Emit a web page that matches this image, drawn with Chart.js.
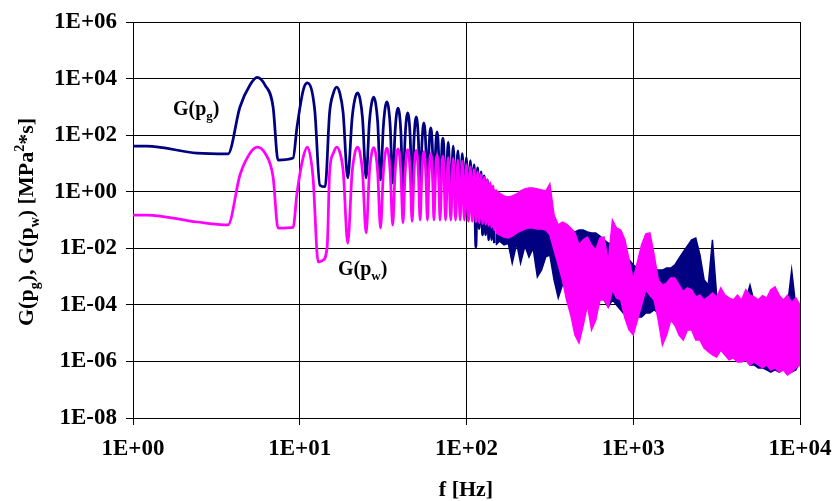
<!DOCTYPE html>
<html>
<head>
<meta charset="utf-8">
<script src="https://cdn.jsdelivr.net/npm/chart.js@4/dist/chart.umd.min.js"></script>
<style>
  body { margin: 0; background: #fff; }
  canvas { display: block; }
</style>
</head>
<body>
<canvas id="spectrum" width="835" height="501"></canvas>
<script>
// tick values and labels
const xTickValues = [1, 10, 100, 1000, 10000];
const xTickLabels = ['1E+00', '1E+01', '1E+02', '1E+03', '1E+04'];
const yTickValues = [1e-8, 1e-6, 1e-4, 1e-2, 1, 1e2, 1e4, 1e6];
const yTickLabels = ['1E-08', '1E-06', '1E-04', '1E-02', '1E+00', '1E+02', '1E+04', '1E+06'];

// G(pg) - low frequency part, peaks, shoulders and troughs
const pgFreq = [1, 1.21, 2.42, 3.71, 4.38, 5.03, 5.55, 6.19, 6.92, 7.41, 9.12, 9.63, 10.5, 11.1, 12.3, 13.2, 14.2,
  15.1, 15.9, 16.65, 17.4, 18.2, 19.4,
  20.6, 21.4, 22.2, 23.0, 23.8, 25.0,
  26.15, 26.95, 27.75, 28.55, 29.35, 30.5,
  31.7, 32.5, 33.3, 34.1, 34.9, 36.1,
  37.25, 38.05, 38.85, 39.65, 40.45, 41.6,
  42.8, 43.6, 44.4, 45.2, 46.0, 47.2,
  48.35, 49.15, 49.95, 50.75, 51.55, 52.7,
  53.9, 54.7, 55.5, 56.3, 57.1, 58.3,
  59.45, 60.25, 61.05, 61.85, 62.65, 63.8,
  65.0, 65.8, 66.6, 67.4, 68.2, 69.4,
  71.35, 72.15, 72.95, 74.9,
  77.7, 80.5, 83.25, 86.0, 88.8, 91.6, 94.35, 97.1, 99.9,
  102.7, 105.45, 108.2, 111.0, 113.8, 116.55, 119.3, 122.1, 124.9, 127.65, 130.4, 133.2, 136.0, 138.75, 141.5, 144.3, 147.0];
const pgVal = [41, 41, 23, 21.6, 990, 5900, 11000, 5900, 990, 13.2, 15.6, 194, 3950, 7000, 770, 1.7, 1.5,
  625, 3000, 5000, 3000, 625, 3.1,
  390, 1850, 3100, 1850, 390, 3.1,
  275, 1300, 2200, 1300, 275, 2.6,
  190, 900, 1500, 900, 190, 2.0,
  115, 550, 910, 550, 115, 0.8,
  76, 370, 610, 370, 76, 0.7,
  55, 265, 440, 265, 55, 0.65,
  34, 160, 270, 160, 34, 0.65,
  22, 110, 180, 110, 22, 0.65,
  16, 78, 130, 78, 16, 0.6,
  48, 79, 48, 0.6,
  57, 0.55, 41, 0.5, 28, 0.45, 22, 0.4, 16,
  0.1, 12.5, 0.3, 8.9, 0.011, 6.9, 0.05, 5.0, 0.03, 3.6, 0.03, 2.6, 0.02, 1.8, 0.02, 1.2, 0.015];

// G(pw) - low frequency part
const pwFreq = [1, 1.21, 2.42, 3.71, 4.38, 5.03, 5.55, 6.19, 6.92, 7.41, 9.12, 9.63, 10.5, 11.1, 12.0, 12.9, 13.7, 14.6,
  15.1, 15.9, 16.65, 17.45, 18.25, 19.4,
  20.6, 21.4, 22.2, 23.0, 23.8, 25.0,
  26.15, 26.95, 27.75, 28.55, 29.35, 30.5,
  31.7, 32.5, 33.3, 34.1, 34.9, 36.1,
  37.25, 38.05, 38.85, 39.65, 40.45, 41.6,
  42.8, 43.6, 44.4, 45.2, 46.0, 47.2,
  48.35, 49.15, 49.95, 50.75, 51.55, 52.7,
  53.9, 54.7, 55.5, 56.3, 57.1, 58.3,
  59.45, 60.25, 61.05, 61.85, 62.65, 63.8,
  65.0, 65.8, 66.6, 67.4, 68.2, 69.4,
  71.35, 72.15, 72.95, 74.9,
  77.7, 80.5, 83.25, 86.0, 88.8, 91.6, 94.35, 97.1, 99.9,
  102.7, 105.45, 108.2, 111.0, 113.8, 116.55, 119.3, 122.1, 124.9, 127.65, 130.4, 133.2, 136.0, 138.75, 141.5, 144.3, 147.0, 149.85];
const pwVal = [0.15, 0.15, 0.085, 0.067, 3.9, 23, 38, 23, 3.3, 0.052, 0.055, 0.9, 17, 38, 3.4, 0.0033, 0.0037, 0.011,
  4.8, 23, 38, 23, 4.8, 0.015,
  4.8, 23, 38, 23, 4.8, 0.035,
  4.5, 22, 36, 22, 4.5, 0.052,
  4.4, 21, 35, 21, 4.4, 0.066,
  4.1, 20, 33, 20, 4.1, 0.08,
  3.9, 19, 31, 19, 3.9, 0.09,
  3.6, 17, 29, 17, 3.6, 0.1,
  3.3, 16, 26, 16, 3.3, 0.1,
  2.8, 13, 22, 13, 2.8, 0.1,
  2.5, 12, 20, 12, 2.5, 0.1,
  11, 18, 11, 0.1,
  16, 0.1, 15, 0.1, 13, 0.1, 12, 0.1, 9,
  0.09, 7.5, 0.09, 6, 0.085, 5, 0.08, 4, 0.075, 3.3, 0.07, 2.6, 0.065, 2.1, 0.055, 1.6, 0.045, 1.2];

// high frequency part: upper / lower edge of the dense band
const bandFreq = [150, 158, 168, 178, 188, 200, 211, 224, 237, 251, 266, 282, 299, 316, 335,
  355, 376, 398, 422, 447, 473, 501, 531, 562, 596, 631, 668, 708, 750, 794,
  841, 891, 944, 1000, 1059, 1122, 1189, 1259, 1334, 1413, 1496, 1585, 1679, 1778, 1884,
  1995, 2113, 2239, 2371, 2512, 2661, 2818, 2985, 3162, 3350, 3548, 3758, 3981, 4217, 4467,
  4732, 5012, 5309, 5623, 5957, 6310, 6683, 7079, 7499, 7943, 8414, 8913, 9441, 10000];

const pwHi = [1.15, 0.90, 0.71, 0.65, 0.71, 0.83, 1.06, 1.25, 1.36, 1.36, 1.25, 1.15, 1.06, 1.9, 0.15,
  0.067, 0.085, 0.072, 0.052, 0.035, 0.013, 0.020, 0.025, 0.013, 0.0087, 0.023, 0.025, 0.0033, 0.10, 0.052,
  0.044, 0.020, 0.0039, 7.6e-4, 0.0033, 0.013, 0.032, 0.035, 0.0058, 7.6e-4, 5.0e-4, 5.9e-4, 8.9e-4, 8.9e-4, 5.0e-4,
  2.9e-4, 4.0e-4, 3.4e-4, 1.9e-4, 2.2e-4, 1.5e-4, 1.9e-4, 2.6e-4, 1.9e-4, 4.0e-4, 2.2e-4, 1.75e-4, 1.5e-4, 2.2e-4, 1.5e-4,
  3.4e-4, 2.2e-4, 1.9e-4, 1.5e-4, 2.1e-4, 1.75e-4, 3.4e-4, 4.3e-4, 2.2e-4, 1.5e-4, 2.2e-4, 1.2e-4, 1.75e-4, 9.9e-5];
const pwLo = [0.035, 0.030, 0.025, 0.023, 0.027, 0.035, 0.041, 0.048, 0.052, 0.052, 0.048, 0.048, 0.044, 0.030, 0.0087,
  0.0026, 7.6e-4, 1.5e-4, 4.4e-5, 8.6e-6, 4.5e-6, 1.9e-5, 9.9e-5, 1.3e-5, 2.9e-5, 1.5e-4, 1.5e-4, 8.4e-5, 3.4e-4, 1.75e-4,
  1.5e-4, 3.4e-5, 1.3e-5, 8.6e-6, 2.9e-5, 9.9e-5, 3.4e-4, 2.2e-4, 1.5e-4, 2.9e-5, 3.8e-6, 8.6e-6, 2.9e-5, 1.9e-5, 8.6e-6,
  5.7e-6, 1.3e-5, 1.3e-5, 5.7e-6, 5.7e-6, 3.0e-6, 2.2e-6, 1.7e-6, 1.44e-6, 2.5e-6, 1.7e-6, 1.13e-6, 1.33e-6, 9.6e-7, 9.6e-7,
  1.13e-6, 7.5e-7, 9.6e-7, 7.5e-7, 5.9e-7, 7.5e-7, 5.0e-7, 5.9e-7, 4.2e-7, 5.0e-7, 3.3e-7, 4.2e-7, 5.9e-7, 7.5e-7];

const pgHi = [0.77, 0.51, 0.34, 0.23, 0.19, 0.15, 0.118, 0.085, 0.067, 0.052, 0.052, 0.052, 0.044, 0.044, 0.038,
  0.038, 0.044, 0.044, 0.044, 0.038, 0.044, 0.044, 0.038, 0.035, 0.035, 0.027, 0.020, 0.0154, 0.0131, 0.0087,
  0.0074, 0.0058, 0.0039, 0.0026, 0.0020, 0.0020, 0.0020, 0.0017, 0.0020, 0.0017, 0.0017, 0.0020, 0.0020, 0.0026, 0.0045,
  0.0074, 0.0121, 0.020, 0.023, 0.0058, 7.6e-4, 5.0e-4, 0.020, 2.2e-4, 1.9e-4, 1.5e-4, 1.27e-4, 1.27e-4, 1.17e-4, 1.27e-4,
  1.5e-4, 5.0e-4, 1.27e-4, 1.17e-4, 1.17e-4, 1.08e-4, 1.08e-4, 9.9e-5, 9.9e-5, 9.9e-5, 9.1e-5, 1.7e-3, 8.4e-5, 7.8e-5];
const pgLo = [0.0131, 0.018, 0.0131, 0.015, 0.0030, 0.015, 0.0030, 0.012, 0.0049, 0.010, 9.7e-4, 0.0017, 0.0050, 0.0058, 7.6e-4,
  1.75e-4, 5.0e-4, 1.14e-3, 5.0e-4, 3.4e-4, 5.0e-4, 7.6e-4, 5.0e-4, 3.4e-4, 4.3e-4, 3.4e-4, 1.5e-4, 8.4e-5, 1.5e-4, 9.9e-5,
  6.6e-5, 4.4e-5, 4.4e-5, 3.7e-5, 3.7e-5, 3.7e-5, 5.2e-5, 5.2e-5, 6.6e-5, 5.2e-5, 6.6e-5, 9.9e-5, 1.5e-4, 1.5e-4, 2.2e-4,
  3.4e-4, 3.4e-4, 2.2e-4, 1.5e-4, 9.9e-5, 4.4e-5, 1.9e-5, 8.6e-6, 5.7e-6, 3.8e-6, 2.5e-6, 1.7e-6, 1.7e-6, 1.33e-6, 1.13e-6,
  1.13e-6, 7.5e-7, 7.5e-7, 5.9e-7, 5.9e-7, 5.0e-7, 4.2e-7, 5.0e-7, 4.2e-7, 5.0e-7, 4.2e-7, 4.2e-7, 5.0e-7, 9.6e-7];

const NAVY = '#000080';
const MAGENTA = '#ff00ff';
const FONT = '"Liberation Serif", "Times New Roman", serif';

function pts(xs, ys) {
  const out = [];
  for (let i = 0; i < xs.length; i++) {
    out.push({ x: xs[i], y: ys[i] });
  }
  return out;
}

// draws text with sub/superscripts, parts = [[text, 'sub'|'sup'|undefined], ...]
function drawRich(ctx, parts, x, y, align, size) {
  const big = 'bold ' + size + 'px ' + FONT;
  const small = 'bold ' + Math.round(size * 0.65) + 'px ' + FONT;
  let total = 0;
  parts.forEach(p => {
    ctx.font = p[1] ? small : big;
    total += ctx.measureText(p[0]).width;
  });
  let cx = align === 'center' ? x - total / 2 : x;
  ctx.fillStyle = '#000';
  ctx.textBaseline = 'alphabetic';
  ctx.textAlign = 'left';
  parts.forEach(p => {
    ctx.font = p[1] ? small : big;
    let dy = 0;
    if (p[1] === 'sub') dy = size * 0.25;
    if (p[1] === 'sup') dy = -size * 0.4;
    ctx.fillText(p[0], cx, y + dy);
    cx += ctx.measureText(p[0]).width;
  });
}

const textPlugin = {
  id: 'textPlugin',
  afterDraw(chart) {
    const ctx = chart.ctx;
    ctx.save();
    drawRich(ctx, [['G(p'], ['g', 'sub'], [')']], 173, 115, 'left', 20);
    drawRich(ctx, [['G(p'], ['w', 'sub'], [')']], 338, 275, 'left', 20);
    drawRich(ctx, [['f [Hz]']], 466, 496, 'center', 22);
    ctx.translate(33, 222);
    ctx.rotate(-Math.PI / 2);
    drawRich(ctx, [['G(p'], ['g', 'sub'], ['), G(p'], ['w', 'sub'], [') [MPa'], ['2', 'sup'], ['*s]']], 0, 0, 'center', 22);
    ctx.restore();
  }
};

const ctx = document.getElementById('spectrum');

new Chart(ctx, {
  type: 'line',
  data: {
    datasets: [
      { label: 'G(pw)', data: pts(pwFreq, pwVal), borderColor: MAGENTA, borderWidth: 2.75, pointRadius: 0, fill: false, cubicInterpolationMode: 'monotone' },
      { label: 'G(pw) hi', data: pts(bandFreq, pwHi), borderColor: MAGENTA, backgroundColor: MAGENTA, borderWidth: 1.5, pointRadius: 0, fill: '+1' },
      { label: 'G(pw) lo', data: pts(bandFreq, pwLo), borderColor: MAGENTA, borderWidth: 1.5, pointRadius: 0, fill: false },
      { label: 'G(pg)', data: pts(pgFreq, pgVal), borderColor: NAVY, borderWidth: 2.75, pointRadius: 0, fill: false, cubicInterpolationMode: 'monotone' },
      { label: 'G(pg) hi', data: pts(bandFreq, pgHi), borderColor: NAVY, backgroundColor: NAVY, borderWidth: 1.5, pointRadius: 0, fill: '+1' },
      { label: 'G(pg) lo', data: pts(bandFreq, pgLo), borderColor: NAVY, borderWidth: 1.5, pointRadius: 0, fill: false }
    ]
  },
  options: {
    responsive: false,
    animation: false,
    devicePixelRatio: 1,
    layout: { padding: { left: 0, top: 22, right: 35, bottom: 0 } },
    plugins: {
      legend: { display: false },
      tooltip: { enabled: false }
    },
    elements: { line: { tension: 0 } },
    scales: {
      x: {
        type: 'logarithmic',
        min: 1,
        max: 10000,
        afterBuildTicks: (scale) => { scale.ticks = xTickValues.map(v => ({ value: v })); },
        afterFit: (scale) => { scale.height = 83; scale.paddingLeft = 0; scale.paddingRight = 0; },
        grid: { color: '#000', lineWidth: 1, tickLength: 7, tickColor: '#000' },
        border: { color: '#000', width: 1 },
        ticks: {
          autoSkip: false,
          maxRotation: 0,
          padding: 10,
          color: '#000',
          font: { family: FONT, size: 23, weight: 'bold' },
          callback: (value, index) => xTickLabels[index]
        }
      },
      y: {
        type: 'logarithmic',
        min: 1e-8,
        max: 1e6,
        afterBuildTicks: (scale) => { scale.ticks = yTickValues.map(v => ({ value: v })); },
        afterFit: (scale) => { scale.width = 133; scale.paddingTop = 0; scale.paddingBottom = 0; },
        grid: { color: '#000', lineWidth: 1, tickLength: 7, tickColor: '#000' },
        border: { color: '#000', width: 1 },
        ticks: {
          autoSkip: false,
          padding: 9,
          color: '#000',
          font: { family: FONT, size: 23, weight: 'bold' },
          callback: (value, index) => yTickLabels[index]
        }
      }
    }
  },
  plugins: [textPlugin]
});
</script>
</body>
</html>
